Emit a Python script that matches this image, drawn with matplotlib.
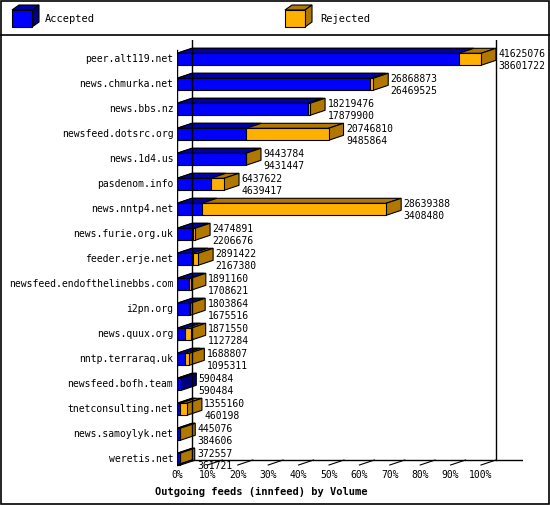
import matplotlib
matplotlib.use("Agg")
import matplotlib.pyplot as plt
from matplotlib.patches import Polygon, Rectangle

hosts = ["peer.alt119.net","news.chmurka.net","news.bbs.nz","newsfeed.dotsrc.org","news.1d4.us",
         "pasdenom.info","news.nntp4.net","news.furie.org.uk","feeder.erje.net",
         "newsfeed.endofthelinebbs.com","i2pn.org","news.quux.org","nntp.terraraq.uk",
         "newsfeed.bofh.team","tnetconsulting.net","news.samoylyk.net","weretis.net"]
offered = [41625076,26868873,18219476,20746810,9443784,6437622,28639388,2474891,2891422,
           1891160,1803864,1871550,1688807,590484,1355160,445076,372557]
accepted = [38601722,26469525,17879900,9485864,9431447,4639417,3408480,2206676,2167380,
            1708621,1675516,1127284,1095311,590484,460198,384606,361721]

W, H = 550, 505
fig = plt.figure(figsize=(W/100, H/100), dpi=100)
fig.patch.set_facecolor("white")
FONT = "DejaVu Sans Mono"

# frame + legend
bg = fig.add_axes([0, 0, 1, 1]); bg.set_xlim(0, W); bg.set_ylim(H, 0); bg.axis("off")
bg.add_patch(Rectangle((1, 1), W-2, H-2, fill=False, lw=1.2, ec="black"))
bg.plot([1, W-1], [35, 35], color="black", lw=1.2)
def legbox(x, y, c, cs, ct):
    w, h, d, e = 20, 17, 7, 5
    bg.add_patch(Polygon([(x, y), (x+d, y-e), (x+w+d, y-e), (x+w, y)], fc=ct, ec="black", lw=0.8))
    bg.add_patch(Polygon([(x+w, y), (x+w+d, y-e), (x+w+d, y+h-e), (x+w, y+h)], fc=cs, ec="black", lw=0.8))
    bg.add_patch(Rectangle((x, y), w, h, fc=c, ec="black", lw=0.8))
BLUE, BLUE_S, BLUE_T = "#0000ff", "#00007a", "#0000a8"
OR, OR_S = "#ffb000", "#b07800"
legbox(12, 10, BLUE, BLUE_S, BLUE_T)
bg.text(45, 19, "Accepted", fontsize=7.5, family=FONT, va="center")
legbox(285, 10, OR, OR_S, OR_S)
bg.text(320, 19, "Rejected", fontsize=7.5, family=FONT, va="center")

# plot axes
px = 3.04  # px per percent
x0, x1, y0, y1 = 177, 523, 40, 470
ax = fig.add_axes([x0/W, 1-y1/H, (x1-x0)/W, (y1-y0)/H])
ax.set_xlim(0, (x1-x0)/px)
pitch = 25.0
c0 = 59.3
ax.set_ylim((y1-c0)/pitch, (y0-c0)/pitch)
ax.axis("off")
dx = 15/px; dy = 5/pitch; hh = 6/pitch
n = len(hosts)
bottom = (460-c0)/pitch

# back walls & floor
ax.plot([dx, dx], [(y0-c0)/pitch, bottom], color="black", lw=1)
ax.plot([100+dx, 100+dx], [(y0-c0)/pitch, bottom], color="black", lw=1)
ax.plot([dx, (x1-x0)/px], [bottom, bottom], color="black", lw=1)
ax.plot([0, 0], [(y0+10-c0)/pitch, bottom+dy], color="black", lw=1)
for t in range(0, 101, 10):
    ax.plot([t, t+dx], [bottom+dy, bottom], color="black", lw=0.8)
    ax.text(t, bottom+dy+0.42, f"{t}%", fontsize=7, family=FONT, ha="center", va="center")
ax.plot([-dx, dx], [bottom+2*dy, bottom], color="black", lw=0.8)

mx = max(offered)
for i in range(n):
    a = accepted[i]/mx*100; o = offered[i]/mx*100
    top, bot = i-hh, i+hh
    ax.add_patch(Polygon([(0, top), (dx, top-dy), (o+dx, top-dy), (o, top)], fc=OR_S, ec="black", lw=0.8))
    ax.add_patch(Polygon([(0, top), (dx, top-dy), (a+dx, top-dy), (a, top)], fc=BLUE_T, ec="black", lw=0.8))
    endc = OR_S if o > a + 0.01 else BLUE_S
    ax.add_patch(Polygon([(o, top), (o+dx, top-dy), (o+dx, bot-dy), (o, bot)], fc=endc, ec="black", lw=0.8))
    ax.add_patch(Rectangle((0, top), a, 2*hh, fc=BLUE, ec="black", lw=0.8))
    if o > a + 0.01:
        ax.add_patch(Rectangle((a, top), o-a, 2*hh, fc=OR, ec="black", lw=0.8))
    ax.text(o+dx+0.8, i-0.2, str(offered[i]), fontsize=7, family=FONT, va="center")
    ax.text(o+dx+0.8, i+0.26, str(accepted[i]), fontsize=7, family=FONT, va="center")
    ax.text(-1.2, i, hosts[i], fontsize=7, family=FONT, ha="right", va="center")

bg.text(155, 492, "Outgoing feeds (innfeed) by Volume", fontsize=7.5, family=FONT,
        weight="bold", va="center")
fig.savefig("out.png", dpi=100)
